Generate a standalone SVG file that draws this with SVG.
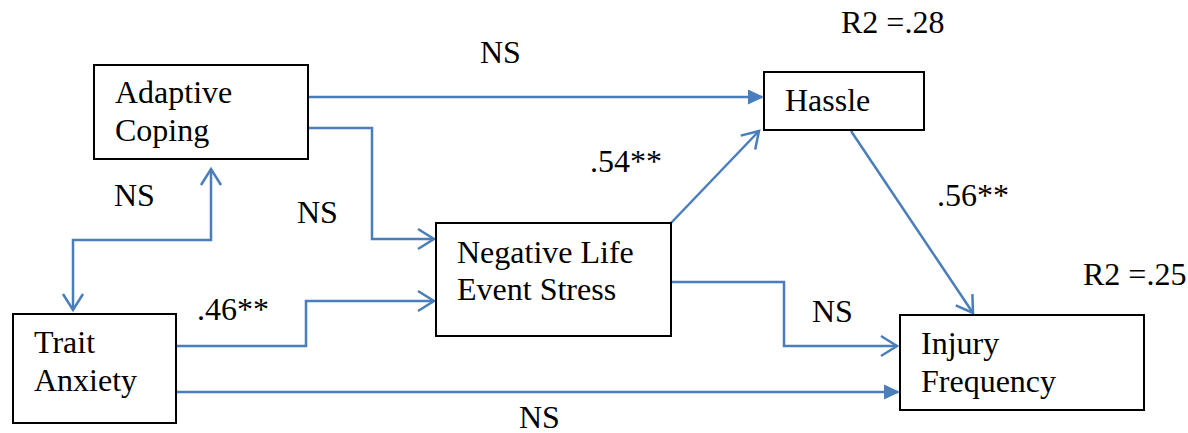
<svg xmlns="http://www.w3.org/2000/svg" width="1188" height="433" viewBox="0 0 1188 433">
<style>
text{font-size:32px;fill:#000}
.box{fill:#fff;stroke:#000;stroke-width:2}
.c{fill:none;stroke:#4a7ebb;stroke-width:2.5}
</style>
<defs>
<marker id="open" markerUnits="userSpaceOnUse" markerWidth="20" markerHeight="24" refX="16" refY="10" orient="auto-start-reverse" overflow="visible">
<path d="M0,0 L16,10 L0,20" fill="none" stroke="#4a7ebb" stroke-width="2.5"/>
</marker>
<marker id="fill" markerUnits="userSpaceOnUse" markerWidth="16" markerHeight="16" refX="14" refY="7.5" orient="auto" overflow="visible">
<path d="M0,0 L16,7.5 L0,15 z" fill="#4a7ebb"/>
</marker>
</defs>
<g font-family="'Liberation Serif', 'Times New Roman', 'DejaVu Serif', serif">
<g id="connectors">
<path class="c" d="M308,97 H762" marker-end="url(#fill)"/>
<path class="c" d="M308,128 H372 V239 H434" marker-end="url(#open)"/>
<path class="c" d="M73,310 V240 H211 V169" marker-start="url(#open)" marker-end="url(#open)"/>
<path class="c" d="M176,346 H306 V301 H434" marker-end="url(#open)"/>
<path class="c" d="M176,392 H898" marker-end="url(#fill)"/>
<path class="c" d="M671,223 L759,131" marker-end="url(#open)"/>
<path class="c" d="M851,131 L973,313" marker-end="url(#open)"/>
<path class="c" d="M671,282 H784 V346 H897" marker-end="url(#open)"/>
</g>
<g id="adaptive-coping">
<rect class="box" x="94" y="65" width="214" height="94"/>
<text x="115" y="103">Adaptive</text>
<text x="115" y="141">Coping</text>
</g>
<g id="hassle">
<rect class="box" x="764" y="72" width="160" height="58"/>
<text x="785" y="111">Hassle</text>
</g>
<g id="negative-life-event-stress">
<rect class="box" x="436" y="223" width="235" height="113"/>
<text x="457" y="263">Negative Life</text>
<text x="457" y="300">Event Stress</text>
</g>
<g id="trait-anxiety">
<rect class="box" x="13" y="314" width="163" height="109"/>
<text x="34" y="353">Trait</text>
<text x="34" y="391">Anxiety</text>
</g>
<g id="injury-frequency">
<rect class="box" x="900" y="315" width="244" height="95"/>
<text x="921" y="354">Injury</text>
<text x="921" y="392">Frequency</text>
</g>
<g id="labels">
<text x="841" y="33">R2 =.28</text>
<text x="480" y="63">NS</text>
<text x="114" y="206">NS</text>
<text x="297" y="223">NS</text>
<text x="590" y="172">.54**</text>
<text x="937" y="206">.56**</text>
<text x="1083" y="285">R2 =.25</text>
<text x="197" y="320">.46**</text>
<text x="812" y="322">NS</text>
<text x="519" y="428">NS</text>
</g>
</g>
</svg>
